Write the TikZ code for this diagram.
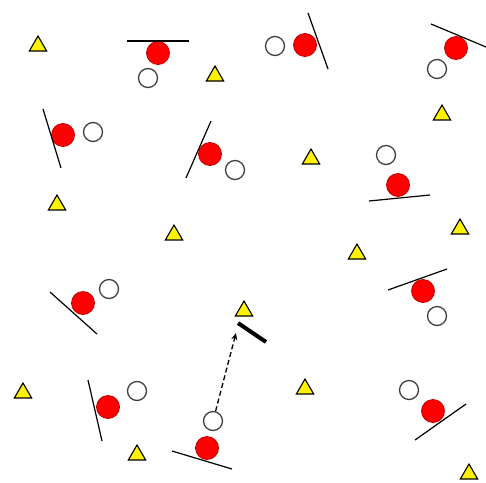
\documentclass[tikz,border=0pt]{standalone}
\usetikzlibrary{arrows.meta,shapes.geometric}
\tikzset{
  tri/.style={regular polygon,regular polygon sides=3,draw,line width=1.1pt,fill=yellow,minimum size=20pt,inner sep=0pt},
  ball/.style={circle,draw=red!75!black,line width=0.8pt,fill=red,minimum size=23pt,inner sep=0pt},
  ghost/.style={circle,draw=black!75,line width=1.3pt,fill=white,minimum size=19pt,inner sep=0pt},
  wall/.style={line width=1.2pt},
  arr/.style={-{Stealth[length=7pt,width=6pt]},dash pattern=on 5pt off 3pt,line width=1.3pt},
}
\begin{document}
\begin{tikzpicture}[x=1pt,y=-1pt]
\useasboundingbox (0,0) rectangle (486,482);
% targets
\foreach \i/\x/\y in {1/38/44,2/215/74,3/442/113,4/311/157,5/57/203,6/174/233,7/460/227,
  8/357/252,9/244/309,10/23/391,11/305/387,12/137/453,13/469/472}
  \node[tri] (t\i) at (\x,\y+2) {};
% balls, previous positions and walls
\foreach \i/\bx/\by/\gx/\gy/\ax/\ay/\cx/\cy in {1/158/53/148/78/127/41/189/41,
  2/305/45/275/46/308/13/328/69, 3/456/48/437/69/431/24/486/47,
  4/63/135/93/132/43/109/61/168, 5/210/154/235/170/211/121/186/178,
  6/398/185/386/155/369/201/430/195, 7/83/303/109/289/50/292/97/334,
  8/423/291/437/316/388/290/447/269, 9/108/407/137/391/88/380/102/441,
  10/207/448/213/421/172/451/232/469, 11/433/411/409/390/415/440/466/404} {
  \node[ball] (b\i) at (\bx,\by) {};
  \node[ghost] (g\i) at (\gx,\gy) {};
  \draw[wall] (\ax,\ay) -- (\cx,\cy);
}
\coordinate (tip) at (236,333);
\draw[arr] (g10) -- (tip);
\draw[line width=4pt] (238,323) -- (266,342);
\end{tikzpicture}
\end{document}
